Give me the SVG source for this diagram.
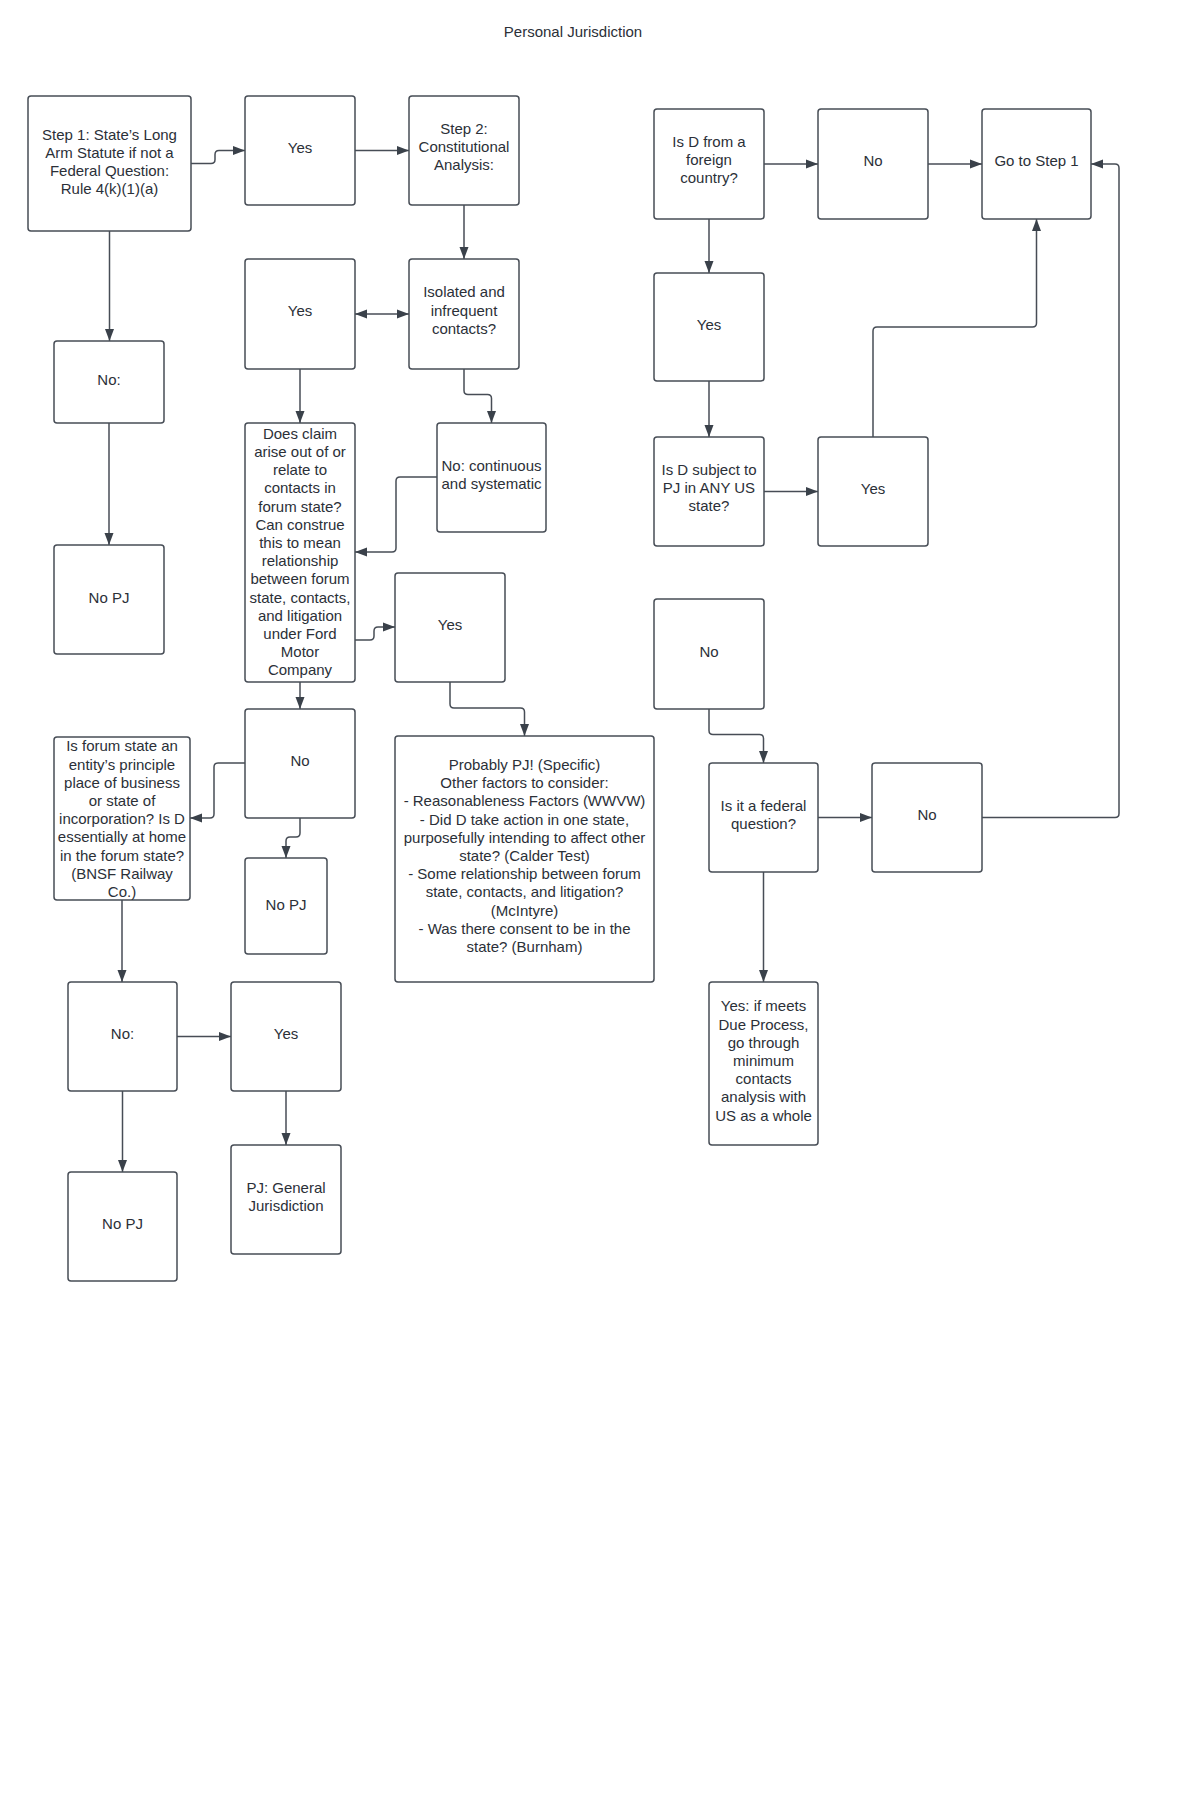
<svg xmlns="http://www.w3.org/2000/svg" width="1200" height="1811" viewBox="0 0 1200 1811">
<style>
.bg{fill:#ffffff}
.box{fill:#ffffff;stroke:#474d56;stroke-width:1.5}
.t{font-family:"Liberation Sans",Arial,sans-serif;font-size:15px;fill:#2b3038;text-anchor:middle}
.c{fill:none;stroke:#474d56;stroke-width:1.5}
</style>
<defs>
<marker id="ah" viewBox="0 0 12 10" refX="12" refY="5" markerWidth="12" markerHeight="10" markerUnits="userSpaceOnUse" orient="auto-start-reverse">
<path d="M0,0.5 L12,5 L0,9.5 z" fill="#3a414a"/>
</marker>
</defs>
<rect class="bg" x="0" y="0" width="1200" height="1811"/>
<text class="t" x="573" y="37">Personal Jurisdiction</text>

<g id="connectors">
<path class="c" marker-end="url(#ah)" d="M191,163.5 H211 Q215,163.5 215,159.5 V154.5 Q215,150.5 219,150.5 H245"/>
<path class="c" marker-end="url(#ah)" d="M355,150.5 H409"/>
<path class="c" marker-end="url(#ah)" d="M464,205 V259"/>
<path class="c" marker-start="url(#ah)" marker-end="url(#ah)" d="M355,314 H409"/>
<path class="c" marker-end="url(#ah)" d="M109.5,231 V341"/>
<path class="c" marker-end="url(#ah)" d="M109,423 V545"/>
<path class="c" marker-end="url(#ah)" d="M300,369 V423"/>
<path class="c" marker-end="url(#ah)" d="M464,369 V390.5 Q464,394.5 468,394.5 H487.5 Q491.5,394.5 491.5,398.5 V423"/>
<path class="c" marker-end="url(#ah)" d="M437,477 H400 Q396,477 396,481 V548 Q396,552 392,552 H355"/>
<path class="c" marker-end="url(#ah)" d="M355,640 H370 Q374,640 374,636 V631 Q374,627 378,627 H395"/>
<path class="c" marker-end="url(#ah)" d="M300,682 V709"/>
<path class="c" marker-end="url(#ah)" d="M450,682 V704 Q450,708 454,708 H520.5 Q524.5,708 524.5,712 V736"/>
<path class="c" marker-end="url(#ah)" d="M245,763 H218 Q214,763 214,767 V814 Q214,818 210,818 H190"/>
<path class="c" marker-end="url(#ah)" d="M300,818 V833 Q300,837 296,837 H290 Q286,837 286,841 V858"/>
<path class="c" marker-end="url(#ah)" d="M122,900 V982"/>
<path class="c" marker-end="url(#ah)" d="M177,1036.5 H231"/>
<path class="c" marker-end="url(#ah)" d="M122.5,1091 V1172"/>
<path class="c" marker-end="url(#ah)" d="M286,1091 V1145"/>
<path class="c" marker-end="url(#ah)" d="M764,164 H818"/>
<path class="c" marker-end="url(#ah)" d="M928,164 H982"/>
<path class="c" marker-end="url(#ah)" d="M709,219 V273"/>
<path class="c" marker-end="url(#ah)" d="M709,381 V437"/>
<path class="c" marker-end="url(#ah)" d="M764,491.5 H818"/>
<path class="c" marker-end="url(#ah)" d="M873,437 V331 Q873,327 877,327 H1032.5 Q1036.5,327 1036.5,323 V219"/>
<path class="c" marker-end="url(#ah)" d="M709,709 V730.5 Q709,734.5 713,734.5 H759.5 Q763.5,734.5 763.5,738.5 V763"/>
<path class="c" marker-end="url(#ah)" d="M818,817.5 H872"/>
<path class="c" marker-end="url(#ah)" d="M982,817.5 H1115 Q1119,817.5 1119,813.5 V168 Q1119,164 1115,164 H1091"/>
<path class="c" marker-end="url(#ah)" d="M763.5,872 V982"/>
</g>

<g id="step1"><rect class="box" x="28" y="96" width="163" height="135" rx="3"/>
<text class="t" x="109.5" y="140">Step 1: State’s Long</text>
<text class="t" x="109.5" y="158">Arm Statute if not a</text>
<text class="t" x="109.5" y="176">Federal Question:</text>
<text class="t" x="109.5" y="194">Rule 4(k)(1)(a)</text></g>

<g id="yes1"><rect class="box" x="245" y="96" width="110" height="109" rx="3"/>
<text class="t" x="300" y="153">Yes</text></g>

<g id="step2"><rect class="box" x="409" y="96" width="110" height="109" rx="3"/>
<text class="t" x="464" y="134.4">Step 2:</text>
<text class="t" x="464" y="152.2">Constitutional</text>
<text class="t" x="464" y="170">Analysis:</text></g>

<g id="yes2"><rect class="box" x="245" y="259" width="110" height="110" rx="3"/>
<text class="t" x="300" y="316.4">Yes</text></g>

<g id="isolated"><rect class="box" x="409" y="259" width="110" height="110" rx="3"/>
<text class="t" x="464" y="297.4">Isolated and</text>
<text class="t" x="464" y="315.7">infrequent</text>
<text class="t" x="464" y="333.7">contacts?</text></g>

<g id="no-left"><rect class="box" x="54" y="341" width="110" height="82" rx="3"/>
<text class="t" x="109" y="384.7">No:</text></g>

<g id="nopj1"><rect class="box" x="54" y="545" width="110" height="109" rx="3"/>
<text class="t" x="109" y="602.5">No PJ</text></g>

<g id="does-claim"><rect class="box" x="245" y="423" width="110" height="259" rx="3"/>
<text class="t" x="300" y="438.7">Does claim</text>
<text class="t" x="300" y="456.9">arise out of or</text>
<text class="t" x="300" y="475.1">relate to</text>
<text class="t" x="300" y="493.3">contacts in</text>
<text class="t" x="300" y="511.5">forum state?</text>
<text class="t" x="300" y="529.7">Can construe</text>
<text class="t" x="300" y="547.9">this to mean</text>
<text class="t" x="300" y="566.1">relationship</text>
<text class="t" x="300" y="584.3">between forum</text>
<text class="t" x="300" y="602.5">state, contacts,</text>
<text class="t" x="300" y="620.7">and litigation</text>
<text class="t" x="300" y="638.9">under Ford</text>
<text class="t" x="300" y="657.1">Motor</text>
<text class="t" x="300" y="675.3">Company</text></g>

<g id="no-continuous"><rect class="box" x="437" y="423" width="109" height="109" rx="3"/>
<text class="t" x="491.5" y="470.5">No: continuous</text>
<text class="t" x="491.5" y="488.7">and systematic</text></g>

<g id="yes3"><rect class="box" x="395" y="573" width="110" height="109" rx="3"/>
<text class="t" x="450" y="629.5">Yes</text></g>

<g id="no-mid"><rect class="box" x="245" y="709" width="110" height="109" rx="3"/>
<text class="t" x="300" y="766">No</text></g>

<g id="is-forum"><rect class="box" x="54" y="737" width="136" height="163" rx="3"/>
<text class="t" x="122" y="751.4">Is forum state an</text>
<text class="t" x="122" y="769.6">entity’s principle</text>
<text class="t" x="122" y="787.8">place of business</text>
<text class="t" x="122" y="806">or state of</text>
<text class="t" x="122" y="824.2">incorporation? Is D</text>
<text class="t" x="122" y="842.4">essentially at home</text>
<text class="t" x="122" y="860.6">in the forum state?</text>
<text class="t" x="122" y="878.8">(BNSF Railway</text>
<text class="t" x="122" y="897">Co.)</text></g>

<g id="nopj2"><rect class="box" x="245" y="858" width="82" height="96" rx="3"/>
<text class="t" x="286" y="910">No PJ</text></g>

<g id="probably"><rect class="box" x="395" y="736" width="259" height="246" rx="3"/>
<text class="t" x="524.5" y="769.9">Probably PJ! (Specific)</text>
<text class="t" x="524.5" y="788.1">Other factors to consider:</text>
<text class="t" x="524.5" y="806.3">- Reasonableness Factors (WWVW)</text>
<text class="t" x="524.5" y="824.5">- Did D take action in one state,</text>
<text class="t" x="524.5" y="842.7">purposefully intending to affect other</text>
<text class="t" x="524.5" y="860.9">state? (Calder Test)</text>
<text class="t" x="524.5" y="879.1">- Some relationship between forum</text>
<text class="t" x="524.5" y="897.3">state, contacts, and litigation?</text>
<text class="t" x="524.5" y="915.5">(McIntyre)</text>
<text class="t" x="524.5" y="933.7">- Was there consent to be in the</text>
<text class="t" x="524.5" y="951.9">state? (Burnham)</text></g>

<g id="no-bl"><rect class="box" x="68" y="982" width="109" height="109" rx="3"/>
<text class="t" x="122.5" y="1039">No:</text></g>

<g id="yes-bottom"><rect class="box" x="231" y="982" width="110" height="109" rx="3"/>
<text class="t" x="286" y="1039">Yes</text></g>

<g id="nopj3"><rect class="box" x="68" y="1172" width="109" height="109" rx="3"/>
<text class="t" x="122.5" y="1229">No PJ</text></g>

<g id="pj-general"><rect class="box" x="231" y="1145" width="110" height="109" rx="3"/>
<text class="t" x="286" y="1192.6">PJ: General</text>
<text class="t" x="286" y="1210.8">Jurisdiction</text></g>

<g id="foreign"><rect class="box" x="654" y="109" width="110" height="110" rx="3"/>
<text class="t" x="709" y="147">Is D from a</text>
<text class="t" x="709" y="165.2">foreign</text>
<text class="t" x="709" y="183.4">country?</text></g>

<g id="no-tr"><rect class="box" x="818" y="109" width="110" height="110" rx="3"/>
<text class="t" x="873" y="166">No</text></g>

<g id="goto-step1"><rect class="box" x="982" y="109" width="109" height="110" rx="3"/>
<text class="t" x="1036.5" y="166">Go to Step 1</text></g>

<g id="yes-right"><rect class="box" x="654" y="273" width="110" height="108" rx="3"/>
<text class="t" x="709" y="329.5">Yes</text></g>

<g id="subject"><rect class="box" x="654" y="437" width="110" height="109" rx="3"/>
<text class="t" x="709" y="475">Is D subject to</text>
<text class="t" x="709" y="493">PJ in ANY US</text>
<text class="t" x="709" y="511">state?</text></g>

<g id="yes-right2"><rect class="box" x="818" y="437" width="110" height="109" rx="3"/>
<text class="t" x="873" y="494">Yes</text></g>

<g id="no-right"><rect class="box" x="654" y="599" width="110" height="110" rx="3"/>
<text class="t" x="709" y="656.5">No</text></g>

<g id="federal"><rect class="box" x="709" y="763" width="109" height="109" rx="3"/>
<text class="t" x="763.5" y="811.2">Is it a federal</text>
<text class="t" x="763.5" y="829.4">question?</text></g>

<g id="no-fed"><rect class="box" x="872" y="763" width="110" height="109" rx="3"/>
<text class="t" x="927" y="820">No</text></g>

<g id="yes-meets"><rect class="box" x="709" y="982" width="109" height="163" rx="3"/>
<text class="t" x="763.5" y="1011.3">Yes: if meets</text>
<text class="t" x="763.5" y="1029.5">Due Process,</text>
<text class="t" x="763.5" y="1047.7">go through</text>
<text class="t" x="763.5" y="1065.9">minimum</text>
<text class="t" x="763.5" y="1084.1">contacts</text>
<text class="t" x="763.5" y="1102.3">analysis with</text>
<text class="t" x="763.5" y="1120.5">US as a whole</text></g>
</svg>
